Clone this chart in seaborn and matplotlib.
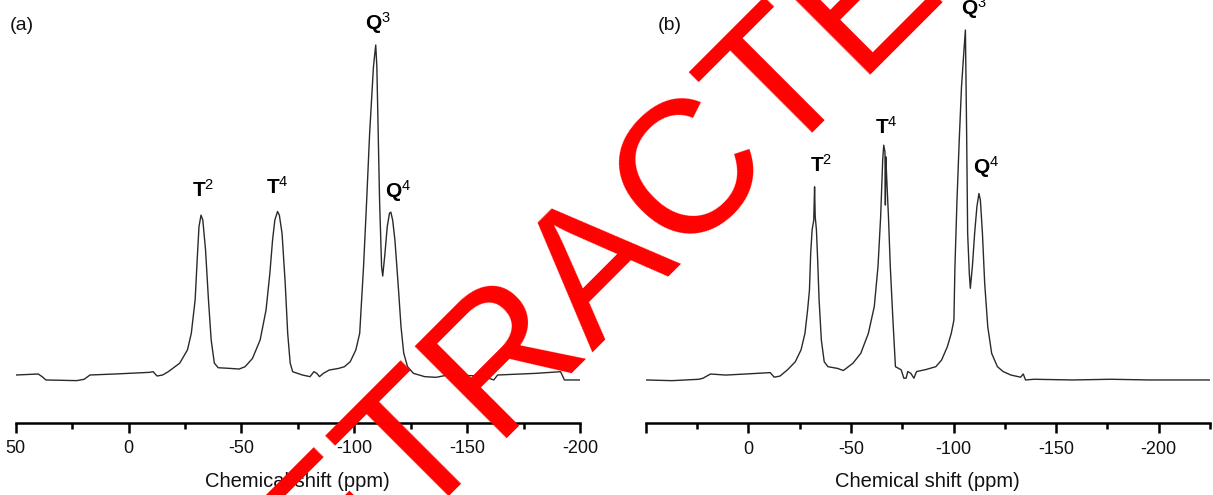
import matplotlib
matplotlib.use("Agg")
import matplotlib.pyplot as plt
from matplotlib.ticker import MultipleLocator
import pandas as pd
import seaborn as sns

# 29Si MAS NMR spectrum of sample (a): chemical shift (ppm) and intensity (a.u., Q3 = 100)
shift_a = [50.0, 40.0, 38.3, 36.6, 23.0, 19.7, 17.1, 6.1, -9.2, -10.9, -12.6, -15.1,
           -17.6, -22.7, -26.1, -27.8, -29.5, -30.4, -31.2, -32.1, -32.9, -34.1, -35.4,
           -36.6, -38.0, -39.7, -44.8, -49.0, -51.6, -54.9, -58.3, -60.9, -62.6, -63.8,
           -64.8, -66.0, -66.8, -68.0, -69.4, -70.5, -71.6, -72.7, -77.0, -80.4, -82.1,
           -83.4, -84.6, -86.3, -88.9, -93.1, -95.6, -98.2, -100.7, -102.4, -104.1,
           -105.5, -106.8, -108.5, -109.5, -110.0, -110.6, -111.2, -112.1, -112.6,
           -113.6, -114.6, -115.6, -116.2, -117.0, -118.0, -119.4, -120.7, -121.9,
           -123.6, -126.2, -131.2, -136.3, -141.4, -156.7, -161.8, -163.5, -180.4,
           -191.4, -193.1, -200.0]
intensity_a = [0.3, 0.6, -0.2, -1.2, -1.4, -1.0, 0.3, 0.6, 1.1, 1.3, 0.0, 0.3,
               1.3, 3.9, 7.9, 12.9, 23.0, 35.1, 45.1, 48.6, 47.1, 38.1, 23.0,
               10.9, 3.9, 2.5, 2.3, 2.1, 2.8, 5.3, 10.9, 19.9, 31.0, 41.1,
               47.1, 49.7, 48.6, 43.1, 28.0, 12.9, 3.9, 1.3, 0.3, -0.2, 1.3,
               0.8, -0.2, 0.8, 1.8, 2.3, 2.8, 4.3, 7.9, 12.9, 33.0,
               53.2, 73.3, 93.5, 100.0, 93.5, 73.3, 53.2, 33.0, 30.2,
               37.1, 45.1, 49.2, 49.5, 47.1, 41.1, 28.0, 14.9, 6.9,
               2.8, 0.8, -0.2, -0.4, 0.3, 0.0, -1.2, 0.3, 0.8,
               1.3, -1.2, -1.2]

# 29Si MAS NMR spectrum of sample (b)
shift_b = [50.0, 37.2, 24.0, 22.1, 18.4, 10.9, 1.5, -10.7, -12.6, -15.4, -19.1, -22.9,
           -25.7, -27.6, -28.9, -29.8, -30.4, -31.1, -31.9, -32.3, -32.6, -33.2, -33.8,
           -34.5, -35.6, -37.0, -38.8, -43.5, -46.3, -47.7, -51.0, -54.8, -58.5, -61.4,
           -63.2, -64.5, -65.5, -66.0, -66.6, -66.8, -67.0, -67.5, -68.3, -69.2, -70.4,
           -71.7, -74.5, -75.8, -76.9, -77.7, -79.2, -80.7, -82.0, -86.7, -91.4, -94.2,
           -97.0, -98.9, -100.2, -100.7, -101.7, -102.8, -103.9, -105.1, -105.8, -106.4,
           -106.9, -107.7, -108.2, -109.2, -110.3, -111.4, -112.4, -113.1, -114.1,
           -115.2, -116.7, -118.6, -121.4, -124.2, -128.0, -132.7, -134.0, -135.1,
           -139.2, -158.0, -176.7, -195.5, -225.0]
intensity_b = [0.0, -0.2, 0.2, 0.5, 1.7, 1.4, 1.7, 2.1, 0.8, 1.1, 2.9, 5.2,
               8.6, 13.3, 20.0, 25.7, 36.2, 42.9, 45.7, 55.2, 46.7, 42.9, 34.3,
               22.9, 11.4, 5.2, 3.8, 3.3, 2.7, 3.3, 4.8, 7.6, 13.3, 21.0,
               32.4, 46.7, 62.9, 67.1, 65.2, 50.0, 63.8, 57.1, 46.7, 32.4, 18.1,
               3.8, 2.9, 0.5, 0.5, 2.4, 1.9, 0.5, 2.4, 3.0, 3.8, 5.7,
               9.5, 13.3, 17.1, 32.4, 51.4, 68.6, 83.8, 94.3, 100.0, 70.5,
               41.9, 30.5, 26.2, 32.4, 41.9, 49.5, 53.3, 51.4, 41.9,
               27.6, 15.2, 7.6, 3.8, 2.4, 1.4, 0.8, 1.7, 0.0,
               0.2, 0.0, 0.2, 0.0, 0.0]

tick_values = [50, 0, -50, -100, -150, -200]
tick_labels_a = ["50", "0", "-50", "-100", "-150", "-200"]
tick_labels_b = ["", "0", "-50", "-100", "-150", "-200"]
peak_labels = [r"$\mathbf{T}^{2}$", r"$\mathbf{T}^{4}$", r"$\mathbf{Q}^{3}$", r"$\mathbf{Q}^{4}$"]
panel_names = ["(a)", "(b)"]
x_title = "Chemical shift (ppm)"

sns.set_theme(style="ticks")
plt.rcParams["font.family"] = ["Liberation Sans", "DejaVu Sans"]
plt.rcParams["mathtext.fontset"] = "custom"
plt.rcParams["mathtext.rm"] = "Liberation Sans"
plt.rcParams["mathtext.bf"] = "Liberation Sans:bold"
plt.rcParams["mathtext.it"] = "Liberation Sans:italic"

W, H = 1213, 495
fig = plt.figure(figsize=(W / 100, H / 100), dpi=100)
fig.patch.set_facecolor("white")

ax_a = fig.add_axes([15.7 / W, 1 - 422.5 / H, 564.3 / W, 422.5 / H])
ax_b = fig.add_axes([645.7 / W, 1 - 423 / H, 564.3 / W, 423 / H])

df_a = pd.DataFrame({"shift": shift_a, "intensity": intensity_a})
df_b = pd.DataFrame({"shift": shift_b, "intensity": intensity_b})

line_kw = dict(color="#2a2a2a", linewidth=1.0, sort=False, estimator=None)
sns.lineplot(data=df_a, x="shift", y="intensity", ax=ax_a, **line_kw)
sns.lineplot(data=df_b, x="shift", y="intensity", ax=ax_b, **line_kw)

ax_a.set_xlim(50, -200)
ax_a.set_ylim(-14.05, 113.6)
ax_b.set_xlim(50, -225)
ax_b.set_ylim(-12.3, 108.6)

for ax, labels in ((ax_a, tick_labels_a), (ax_b, tick_labels_b)):
    ax.set_facecolor("none")
    for side in ("left", "top", "right"):
        ax.spines[side].set_visible(False)
    ax.spines["bottom"].set_linewidth(1.8)
    ax.spines["bottom"].set_color("black")
    ax.set_yticks([])
    ax.set_xticks(tick_values, labels)
    ax.xaxis.set_minor_locator(MultipleLocator(25))
    ax.tick_params(axis="x", which="major", direction="out", length=7.2, width=1.8,
                   color="black", labelsize=13, pad=5.5, labelcolor="#111111")
    ax.tick_params(axis="x", which="minor", direction="out", length=4.3, width=1.8,
                   color="black")
    ax.set_xlabel(x_title, fontsize=14.5, labelpad=10.5, color="#111111")
    ax.set_ylabel("")

# Peak assignments
label_kw = dict(ha="center", va="center", fontsize=15, color="black", clip_on=False)
for ax, spots in ((ax_a, [(-32.9, 56.2), (-66.0, 57.1), (-110.7, 106.6), (-119.3, 55.9)]),
                  (ax_b, [(-35.5, 61.4), (-67.2, 72.4), (-110.1, 106.2), (-116.0, 60.9)])):
    for text, (px, py) in zip(peak_labels, spots):
        ax.text(px, py, text, **label_kw)

fig.text(22 / W, 1 - 25 / H, panel_names[0], ha="center", va="center", fontsize=14,
         color="#111111")
fig.text(670 / W, 1 - 25 / H, panel_names[1], ha="center", va="center", fontsize=14,
         color="#111111")

# Retraction stamp across the figure
fig.text(599 / W, 1 - 262 / H, "RETRACTED", fontsize=136, color="#ff0000",
         rotation=45, rotation_mode="anchor", ha="center", va="center", zorder=10)

fig.savefig("out.png", dpi=100)
